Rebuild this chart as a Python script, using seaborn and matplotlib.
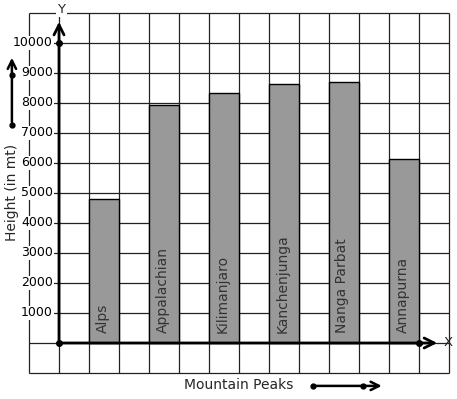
import matplotlib
matplotlib.use('Agg')
import matplotlib.pyplot as plt
import numpy as np
import pandas as pd
import seaborn as sns

sns.set_theme(style='white')
plt.rcParams['font.family'] = ['DejaVu Sans']

peaks = ['Alps', 'Appalachian', 'Kilimanjaro', 'Kanchenjunga', 'Nanga Parbat', 'Annapurna']
heights = [4810, 7930, 8320, 8650, 8690, 6150]
y_ticks = [1000, 2000, 3000, 4000, 5000, 6000, 7000, 8000, 9000, 10000]

# bars sit on every other grid column
positions = np.arange(len(peaks)) * 2 + 1.5
df = pd.DataFrame({'pos': positions, 'height': heights, 'peak': peaks})

fig = plt.figure(figsize=(4.57, 3.99), dpi=100)
ax = fig.add_axes([0, 0, 1, 1])

# graph paper grid
grid_col = '#222222'
ax.vlines(np.arange(-1, 14), -1000, 11000, color=grid_col, lw=0.9, zorder=0)
ax.hlines(np.arange(-1000, 11001, 1000), -1, 13, color=grid_col, lw=0.9, zorder=0)

sns.barplot(data=df, x='pos', y='height', native_scale=True, width=0.5,
            color='#999999', saturation=1, edgecolor='black', linewidth=1.0,
            errorbar=None, ax=ax, zorder=2)

for p, name in zip(positions, peaks):
    ax.text(p - 0.05, 330, name, rotation=90, ha='center', va='bottom',
            fontsize=10, color='#333333', zorder=3)

# axes with arrows
arrow_kw = dict(arrowstyle='->', lw=2, color='black', mutation_scale=18)
ax.annotate('', xy=(0, 10800), xytext=(0, 0), arrowprops=arrow_kw, zorder=4)
ax.annotate('', xy=(12.7, 0), xytext=(0, 0), arrowprops=arrow_kw, zorder=4)
ax.plot([0, 0, 12], [0, 10000, 0], 'o', color='black', ms=4, zorder=5)

for t in y_ticks:
    ax.text(-0.2, t, str(t), ha='right', va='center', fontsize=9, color='black',
            bbox=dict(facecolor='white', edgecolor='none', pad=0.5), zorder=3)

ax.text(0.07, 11120, 'Y', ha='center', va='center', fontsize=9.5,
        bbox=dict(facecolor='white', edgecolor='none', pad=1), zorder=3)
ax.text(12.97, 0, 'X', ha='center', va='center', fontsize=9.5, zorder=3)

# axis titles with their little arrows
small_kw = dict(arrowstyle='->', lw=1.8, color='black', mutation_scale=15)
ax.text(-1.57, 5030, 'Height (in mt)', rotation=90, ha='center', va='center', fontsize=10)
ax.annotate('', xy=(-1.57, 9600), xytext=(-1.57, 7270), arrowprops=small_kw)
ax.plot([-1.57, -1.57], [7270, 8930], 'o', color='black', ms=3.5)

ax.text(6.0, -1400, 'Mountain Peaks', ha='center', va='center', fontsize=10)
ax.annotate('', xy=(10.85, -1430), xytext=(8.47, -1430), arrowprops=small_kw)
ax.plot([8.47, 10.13], [-1430, -1430], 'o', color='black', ms=3.5)

ax.set_xlim(-59 / 30, (457 - 59) / 30)
ax.set_ylim((343 - 399) / 30 * 1000, 343 / 30 * 1000)
ax.axis('off')

fig.savefig('out.png', dpi=100)
